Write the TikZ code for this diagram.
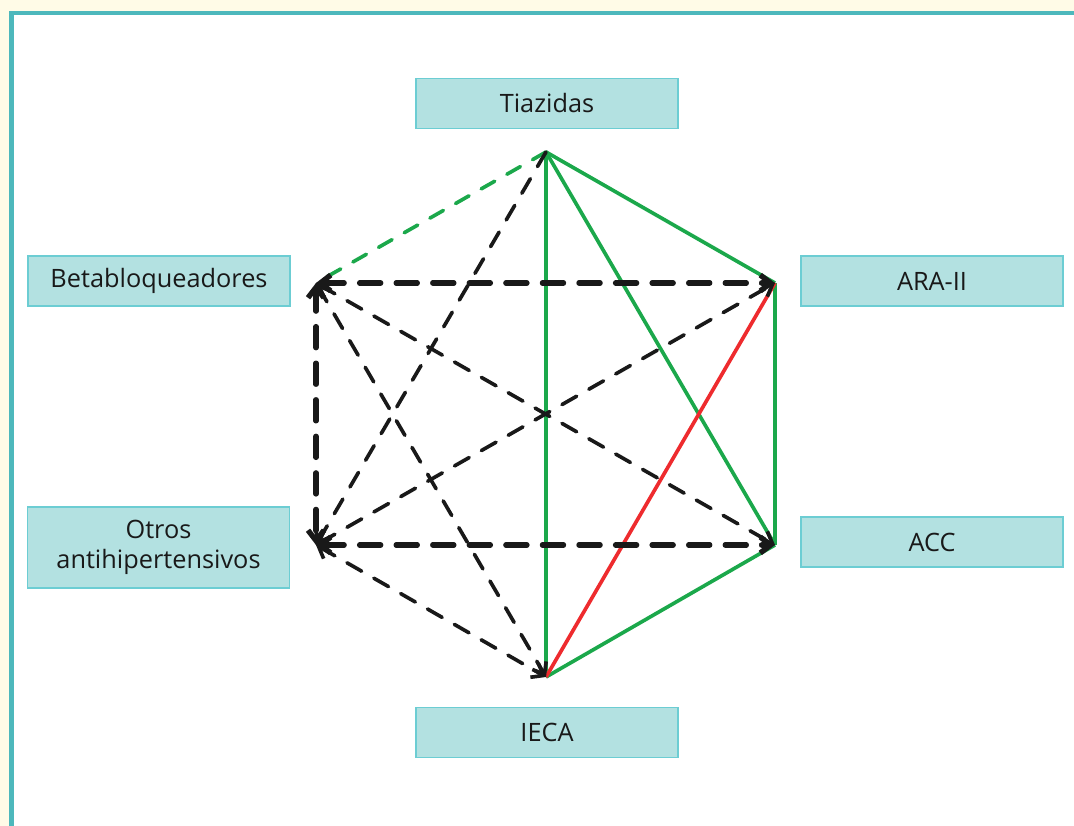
\documentclass[tikz,border=0pt]{standalone}
\usepackage{fontspec}
\setmainfont{Open Sans}
\usepackage{xcolor}
\usetikzlibrary{arrows.meta}

\definecolor{boxfill}{HTML}{B3E1E1}
\definecolor{boxline}{HTML}{6CCDD3}
\definecolor{frameline}{HTML}{4DB8BC}
\definecolor{bgyellow}{HTML}{FFFBE7}
\definecolor{lgreen}{HTML}{1BA84B}
\definecolor{lred}{HTML}{EE2B2E}

\begin{document}
\begin{tikzpicture}[
  x=0.025cm, y=-0.025cm,
  font=\fontsize{18}{21}\selectfont,
  every node/.style={align=center},
  drug/.style={rectangle, draw=boxline, fill=boxfill, line width=1pt, minimum width=6.55cm, minimum height=1.25cm, inner sep=0pt, text=black!90},
  ok/.style={lgreen, line width=2.6pt},
  okdash/.style={lgreen, line width=2.6pt, line cap=round, dash pattern=on 11pt off 10pt},
  bad/.style={lred, line width=2.6pt},
  nodata/.style={black!90, line width=2.6pt, line cap=round, dash pattern=on 12pt off 10pt},
  nodatathick/.style={black!90, line width=3.8pt, line cap=round, dash pattern=on 15pt off 11pt},
  biarr/.style={{Straight Barb[length=2.6mm,width=4mm]}-{Straight Barb[length=2.6mm,width=4mm]}},
  arr/.style={-{Straight Barb[length=2.6mm,width=4mm]}}
]
  % frame
  \useasboundingbox (0,0) rectangle (1074,826);
  \clip (0,0) rectangle (1074,826);
  \fill[bgyellow] (0,0) rectangle (1074,826);
  \draw[frameline, line width=3pt, fill=white] (11.5,13) rectangle (1100,850);

  % drug classes
  \node[drug] (tia) at (547,103.5) {Tiazidas};
  \node[drug] (beta) at (159,281) {Betabloqueadores};
  \node[drug] (ara) at (932,281) {ARA-II};
  \node[drug] (acc) at (932,542) {ACC};
  \node[drug, minimum height=2.02cm] (otros) at (158.5,547.5) {Otros\\antihipertensivos};
  \node[drug] (ieca) at (547,732.5) {IECA};

  % hexagon corners
  \coordinate (T) at (546,152);
  \coordinate (B) at (316,283);
  \coordinate (A) at (775,283);
  \coordinate (O) at (316,545);
  \coordinate (C) at (775,545);
  \coordinate (I) at (546,677);

  % preferred combinations
  \draw[ok] (T) -- (A);
  \draw[ok] (T) -- (C);
  \draw[ok] (T) -- (I);
  \draw[ok] (A) -- (C);
  \draw[ok] (C) -- (I);
  \draw[okdash] (T) -- (B);
  \draw[bad] (A) -- (I);

  % other combinations
  \draw[nodata, arr] (T) -- (O);
  \draw[nodata, biarr] (B) -- (C);
  \draw[nodata, biarr] (B) -- (I);
  \draw[nodata, biarr] (O) -- (A);
  \draw[nodata, biarr] (O) -- (I);
  \draw[nodatathick, biarr] (B) -- (A);
  \draw[nodatathick, biarr] (B) -- (O);
  \draw[nodatathick, biarr] (O) -- (C);
\end{tikzpicture}
\end{document}
